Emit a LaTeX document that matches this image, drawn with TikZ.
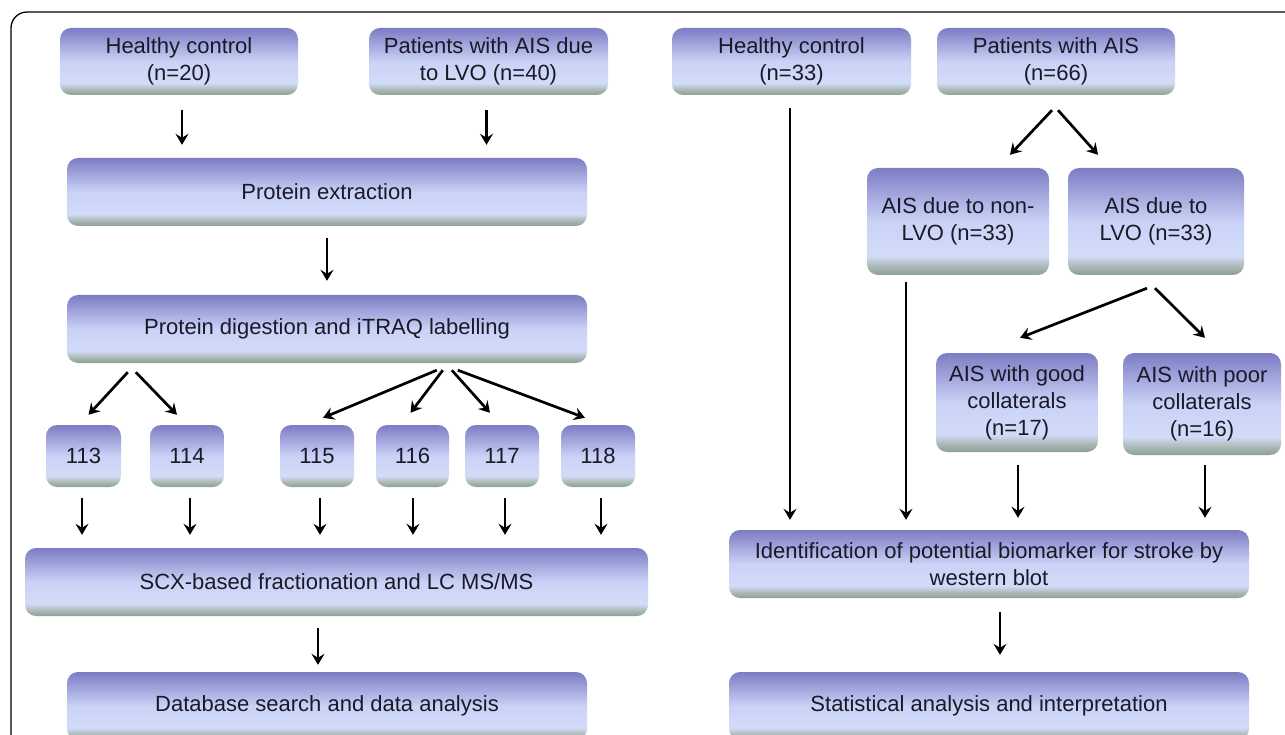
\documentclass[tikz,border=0pt]{standalone}
\usepackage{fontspec}
\setmainfont{Liberation Sans}
\usetikzlibrary{arrows.meta,calc}
\definecolor{bshA}{RGB}{140,160,150}
\definecolor{bshB}{RGB}{170,184,182}
\definecolor{bshC}{RGB}{210,220,248}
\definecolor{bshD}{RGB}{202,210,246}
\definecolor{bshE}{RGB}{124,124,196}
\definecolor{txt}{RGB}{25,25,40}
\pgfdeclareverticalshading{boxshade}{100bp}{color(0bp)=(bshA); color(25bp)=(bshA); color(29bp)=(bshB); color(34bp)=(bshC); color(50bp)=(bshD); color(75bp)=(bshE); color(100bp)=(bshE)}
\tikzset{
  box/.style={rectangle, rounded corners=11pt, shading=boxshade, draw=none,
    inner sep=0pt, align=center, text=txt,
    font=\fontsize{22}{27}\selectfont},
  arr/.style={draw=black, line width=2.7pt, -{Stealth[length=11pt,width=13pt,inset=4pt]}},
}
\begin{document}
\begin{tikzpicture}[x=1pt,y=-1pt]
\useasboundingbox (0,0) rectangle (1285,735);
\fill[white] (0,0) rectangle (1285,735);
\clip (0,0) rectangle (1285,735);
\draw[line width=1.3pt, rounded corners=16pt] (11,12) rectangle (1330,780);

% ---------- left ----------
\node[box, minimum width=238pt, minimum height=67pt] (hc1) at (179,61.5) {Healthy control\\(n=20)};
\node[box, minimum width=239pt, minimum height=67pt] (pat1) at (488.5,61.5) {Patients with AIS due\\to LVO (n=40)};
\node[box, minimum width=520pt, minimum height=68pt] (pe) at (327,192) {Protein extraction};
\node[box, minimum width=520pt, minimum height=68pt] (dig) at (327,329) {Protein digestion and iTRAQ  labelling};
\node[box, minimum width=75pt, minimum height=62pt] (n113) at (83.5,456) {113};
\node[box, minimum width=74pt, minimum height=62pt] (n114) at (187,456) {114};
\node[box, minimum width=74pt, minimum height=62pt] (n115) at (317,456) {115};
\node[box, minimum width=73pt, minimum height=62pt] (n116) at (412.5,456) {116};
\node[box, minimum width=74pt, minimum height=62pt] (n117) at (502,456) {117};
\node[box, minimum width=74pt, minimum height=62pt] (n118) at (598,456) {118};
\node[box, minimum width=623pt, minimum height=68pt] (scx) at (336.5,582) {SCX-based fractionation and LC MS/MS};
\node[box, minimum width=520pt, minimum height=68pt] (db) at (327,706) {Database search and data analysis};

\draw[arr, shorten <=15pt, shorten >=13pt] ([xshift=3pt]hc1.south) -- ([xshift=3pt]hc1.south |- pe.north);
\draw[arr, shorten <=15pt, shorten >=13pt] ([xshift=-2pt]pat1.south) -- ([xshift=-2pt]pat1.south |- pe.north);
\draw[arr, shorten <=12pt, shorten >=14pt] (pe.south) -- (dig.north);
\draw[arr] ($(dig.south west)+(61,9)$) -- ($(n113.north)+(5,-10)$);
\draw[arr] ($(dig.south west)+(69,9)$) -- ($(n114.north)+(-10,-10)$);
\draw[arr] ($(dig.south west)+(370,7)$) -- ($(n115.north)+(6,-7)$);
\draw[arr] ($(dig.south west)+(376,7)$) -- ($(n116.north)+(-2,-12)$);
\draw[arr] ($(dig.south west)+(385,7)$) -- ($(n117.north)+(-12,-12)$);
\draw[arr] ($(dig.south west)+(391,7)$) -- ($(n118.north)+(-13,-7)$);
\foreach \n/\dx in {n113/-1.5,n114/3,n115/3,n116/0.5,n117/3,n118/3}{
  \draw[arr, shorten <=11pt, shorten >=13pt] ([xshift=\dx pt]\n.south) -- ([xshift=\dx pt]\n.south |- scx.north);
}
\draw[arr, shorten <=12pt, shorten >=7pt] ([xshift=-9pt]db.north |- scx.south) -- ([xshift=-9pt]db.north);

% ---------- right ----------
\node[box, minimum width=239pt, minimum height=67pt] (hc2) at (791.5,61.5) {Healthy control\\(n=33)};
\node[box, minimum width=238pt, minimum height=67pt] (pat2) at (1056,61.5) {Patients with AIS\\(n=66)};
\node[box, minimum width=182pt, minimum height=107pt] (nonlvo) at (958,221.5) {AIS due to non-\\LVO (n=33)};
\node[box, minimum width=176pt, minimum height=107pt] (lvo) at (1156,221.5) {AIS due to\\LVO (n=33)};
\node[box, minimum width=162pt, minimum height=99pt] (good) at (1017,402.5) {AIS with good\\collaterals\\(n=17)};
\node[box, minimum width=158pt, minimum height=102pt] (poor) at (1202,404) {AIS with poor\\collaterals\\(n=16)};
\node[box, minimum width=520pt, minimum height=68pt] (idn) at (989,564) {Identification of potential biomarker for stroke by\\western blot};
\node[box, minimum width=520pt, minimum height=68pt] (stat) at (989,706) {Statistical analysis and interpretation};

\coordinate (nv) at ($(nonlvo.south)+(-52,7)$);
\draw[arr, shorten <=13pt, shorten >=10pt] ([xshift=-1.5pt]hc2.south) -- ([xshift=-1.5pt]hc2.south |- idn.north);
\draw[arr] ($(pat2.south)+(-4,15)$) -- ($(nonlvo.north)+(52,-13)$);
\draw[arr] ($(pat2.south)+(2,15)$) -- ($(lvo.north)+(-58,-13)$);
\draw[arr, shorten >=10pt] (nv) -- (nv |- idn.north);
\draw[arr] ($(lvo.south)+(-9,13)$) -- ($(good.north)+(3,-15)$);
\draw[arr] ($(lvo.south)+(-1,13)$) -- ($(poor.north)+(3,-15)$);
\draw[arr, shorten <=13pt, shorten >=12pt] ([xshift=1pt]good.south) -- ([xshift=1pt]good.south |- idn.north);
\draw[arr, shorten <=10pt, shorten >=12pt] ([xshift=3pt]poor.south) -- ([xshift=3pt]poor.south |- idn.north);
\draw[arr, shorten <=14pt, shorten >=17pt] ([xshift=11pt]idn.south) -- ([xshift=11pt]idn.south |- stat.north);
\end{tikzpicture}
\end{document}
